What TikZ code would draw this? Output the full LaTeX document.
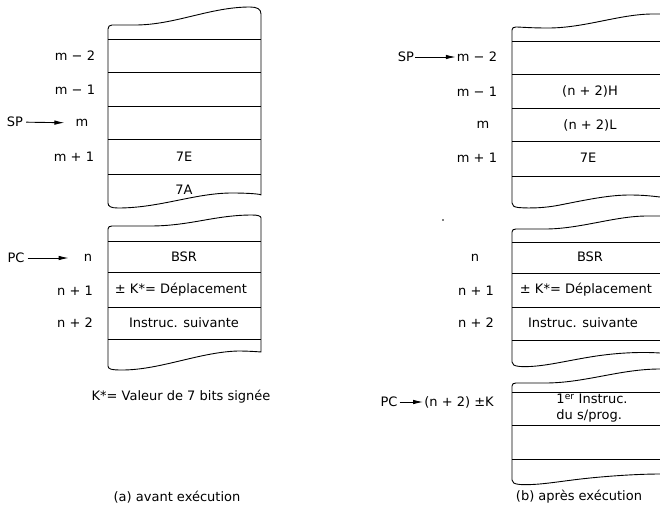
\documentclass[tikz,border=0pt]{standalone}
\usepackage{fontspec}
\setmainfont{DejaVu Sans}
\usetikzlibrary{arrows.meta}
\begin{document}
\begin{tikzpicture}[x=1pt,y=-1pt,
  bx/.style={line width=0.9pt, line join=round},
  hl/.style={line width=0.9pt},
  lbl/.style={font=\fontsize{13}{16}\selectfont, inner sep=0pt},
  arr/.style={line width=0.9pt, -{Latex[length=10pt,width=4.5pt]}}]
\useasboundingbox (0,0) rectangle (660,506);

% ---------- left panel, block 1 ----------
\draw[bx] (108,29) -- (108,203) .. controls (108,206.5) and (111,208) .. (118,208)
  .. controls (160,208) and (195,193) .. (232,193) .. controls (248,193) and (261,194) .. (261,195)
  -- (261,14) .. controls (261,9) and (257,7) .. (250,7)
  .. controls (210,7) and (175,25) .. (135,25) -- (112,25) .. controls (109.5,25) and (108,26.5) .. cycle;
\foreach \yy in {39,72,106,139,174} \draw[hl] (108,\yy) -- (261,\yy);

\node[lbl] (lm2) at (75,56) {m − 2};
\node[lbl] (lm1) at (75,90) {m − 1};
\node[lbl] (lm) at (82,123) {m};
\node[lbl] (lmp1) at (74,157) {m + 1};
\node[lbl] (lsp) at (15,122) {SP};
\draw[arr, shorten <=3pt, shorten >=11pt] (lsp) -- (lm);
\node[lbl] (l7e) at (184,157) {7E};
\node[lbl] (l7a) at (184,190) {7A};

% ---------- left panel, block 2 ----------
\draw[bx] (108,229) -- (108,366) .. controls (108,369) and (111,370) .. (122,370)
  .. controls (160,370) and (200,352) .. (238,351) .. controls (250,351) and (261,352) .. (261,352)
  -- (261,218) .. controls (261,216) and (258,215) .. (252,215)
  .. controls (215,215) and (190,226) .. (150,226) -- (112,226) .. controls (109.5,226) and (108,227) .. cycle;
\foreach \yy in {241,272,307,339} \draw[hl] (108,\yy) -- (261,\yy);

\node[lbl] (ln) at (88,258) {n};
\node[lbl] (lnp1) at (75,291) {n + 1};
\node[lbl] (lnp2) at (75,323) {n + 2};
\node[lbl] (lpc) at (16,258) {PC};
\draw[arr, shorten <=3pt, shorten >=15pt] (lpc) -- (ln);
\node[lbl] (lbsr) at (184,257) {BSR};
\node[lbl] (ldep) at (181,290) {± K*= Déplacement};
\node[lbl] (lins) at (184,323) {Instruc. suivante};

\node[lbl] (lkey) at (181,397) {K*= Valeur de 7 bits signée};
\node[lbl] (capa) at (177,497) {(a) avant exécution};

% ---------- right panel, block 1 ----------
\draw[bx] (660,14) -- (653,14) .. controls (620,14) and (585,28) .. (548,28)
  .. controls (530,28) and (520,27) .. (516,27) .. controls (513.5,27) and (512,28) .. (512,30)
  -- (512,203) .. controls (512,205.5) and (514,207) .. (518,207.5)
  .. controls (530,208.5) and (545,208) .. (560,205) .. controls (590,199) and (610,195) .. (630,195)
  .. controls (645,195) and (655,196.5) .. (660,197);
\foreach \yy in {41,74,108,141,176} \draw[hl] (512,\yy) -- (660,\yy);

\node[lbl] (rm2) at (477,57) {m − 2};
\node[lbl] (rm1) at (477,92) {m − 1};
\node[lbl] (rm) at (483,125) {m};
\node[lbl] (rmp1) at (477,158) {m + 1};
\node[lbl] (rsp) at (406,57) {SP};
\draw[arr, shorten <=1pt, shorten >=1pt] (rsp) -- (rm2);
\node[lbl] (rh) at (590,91) {(n + 2)H};
\node[lbl] (rl) at (590,125) {(n + 2)L};
\node[lbl] (r7e) at (588,158) {7E};

\fill (443,220) circle (0.9pt);

% ---------- right panel, block 2 ----------
\draw[bx] (660,216) -- (647,216) .. controls (615,216) and (580,229) .. (545,229)
  -- (516,229) .. controls (513.5,229) and (512,230) .. (512,232)
  -- (512,362) .. controls (512,364.5) and (514,366) .. (520,366.5)
  .. controls (540,367.5) and (560,362) .. (590,357) .. controls (620,352) and (645,352) .. (660,353);
\foreach \yy in {242,273,307,340} \draw[hl] (512,\yy) -- (660,\yy);

\node[lbl] (rn) at (475,258) {n};
\node[lbl] (rnp1) at (476,291) {n + 1};
\node[lbl] (rnp2) at (476,323) {n + 2};
\node[lbl] (rbsr) at (590,257) {BSR};
\node[lbl] (rdep) at (586,290) {± K*= Déplacement};
\node[lbl] (rins) at (583,323) {Instruc. suivante};

% ---------- right panel, block 3 ----------
\draw[bx] (660,369) .. controls (620,369) and (585,383) .. (545,383)
  -- (516,383) .. controls (513.5,383) and (512,384) .. (512,386)
  -- (512,480) .. controls (512,482.5) and (514,484) .. (520,484.5)
  .. controls (540,485.5) and (560,481) .. (590,478) .. controls (620,475) and (645,474) .. (660,474);
\foreach \yy in {392,425,459} \draw[hl] (512,\yy) -- (660,\yy);

\node[lbl, align=left] (rfirst) at (592,408) {1\textsuperscript{er} Instruc.\\du s/prog.};
\node[lbl] (rpc) at (389,402) {PC};
\node[lbl] (rtgt) at (459,402) {(n + 2) ±K};
\draw[arr, shorten <=2pt, shorten >=1pt] (rpc) -- (rtgt);

\node[lbl] (capb) at (579,497) {(b) après exécution};
\end{tikzpicture}
\end{document}
